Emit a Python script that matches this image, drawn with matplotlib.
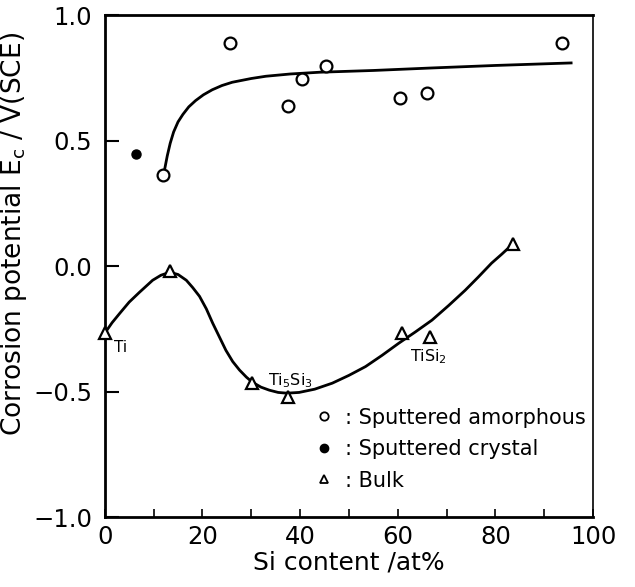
import matplotlib
matplotlib.use("Agg")
import matplotlib.pyplot as plt
from matplotlib.lines import Line2D

plt.rcParams['font.family'] = ['DejaVu Sans']
plt.rcParams['mathtext.fontset'] = 'dejavusans'

# sputtered amorphous films (open circles)
amor_si = [12.0, 25.7, 37.6, 40.4, 45.3, 60.4, 65.9, 93.7]
amor_ec = [0.365, 0.89, 0.637, 0.745, 0.797, 0.669, 0.689, 0.888]

# sputtered crystal (filled circle)
cryst_si = [6.3]
cryst_ec = [0.446]

# bulk samples (open triangles)
bulk_si = [0.0, 13.4, 30.1, 37.5, 60.9, 66.5, 83.5]
bulk_ec = [-0.267, -0.02, -0.466, -0.52, -0.267, -0.283, 0.088]

# guide curves
upper_x = [12.3, 12.8, 13.4, 14.1, 15.0, 16.0, 17.2, 18.6, 20.2, 22.0, 24.0,
           26.1, 30.0, 33.0, 38.0, 44.0, 55.0, 67.0, 80.0, 95.5]
upper_y = [0.39, 0.44, 0.49, 0.535, 0.575, 0.605, 0.635, 0.66, 0.683, 0.703,
           0.72, 0.733, 0.748, 0.757, 0.766, 0.773, 0.78, 0.79, 0.80, 0.81]

lower_x = [0.0, 1.5, 3.1, 5.0, 7.1, 9.8, 11.5, 13.3, 15.0, 16.7, 18.0, 19.4,
           20.8, 22.1, 23.5, 24.8, 26.2, 27.6, 29.0, 30.2, 32.0, 33.7, 35.5,
           37.3, 39.8, 43.0, 46.6, 50.0, 53.4, 56.8, 60.2, 63.6, 67.0, 70.4,
           73.8, 76.5, 79.2, 81.3, 83.3]
lower_y = [-0.267, -0.225, -0.187, -0.143, -0.104, -0.056, -0.036, -0.024,
           -0.033, -0.056, -0.085, -0.12, -0.17, -0.227, -0.283, -0.335,
           -0.38, -0.414, -0.442, -0.462, -0.482, -0.494, -0.503, -0.506,
           -0.503, -0.49, -0.466, -0.435, -0.40, -0.355, -0.307, -0.262,
           -0.215, -0.157, -0.096, -0.043, 0.012, 0.048, 0.084]

fig = plt.figure(figsize=(6.35, 5.87), dpi=100)
ax = fig.add_axes([0.165, 0.119, 0.769, 0.855])

ax.plot(upper_x, upper_y, color='black', lw=2.0, zorder=2)
ax.plot(lower_x, lower_y, color='black', lw=2.0, zorder=2)

ax.plot(amor_si, amor_ec, 'o', ms=8.5, mfc='white', mec='black', mew=1.6,
        zorder=3, clip_on=False)
ax.plot(cryst_si, cryst_ec, 'o', ms=6.5, mfc='black', mec='black', zorder=3)
ax.plot(bulk_si, bulk_ec, '^', ms=8.5, mfc='white', mec='black', mew=1.6,
        zorder=3, clip_on=False)

ax.text(1.8, -0.325, 'Ti', fontsize=11, va='center', ha='left')
ax.text(33.5, -0.455, 'Ti$_5$Si$_3$', fontsize=11.5, va='center', ha='left')
ax.text(62.6, -0.36, 'TiSi$_2$', fontsize=11.5, va='center', ha='left')

handles = [
    Line2D([], [], ls='none', marker='o', ms=6, mfc='white', mec='black', mew=1.3),
    Line2D([], [], ls='none', marker='o', ms=6, mfc='black', mec='black'),
    Line2D([], [], ls='none', marker='^', ms=6, mfc='white', mec='black', mew=1.3),
]
labels = [': Sputtered amorphous', ': Sputtered crystal', ': Bulk']
ax.legend(handles, labels, loc='upper left', bbox_to_anchor=(0.432, 0.218),
          frameon=False, fontsize=15, handlelength=0.8, handletextpad=0.6,
          borderpad=0, borderaxespad=0, labelspacing=0.55)

ax.set_xlim(0, 100)
ax.set_ylim(-1.0, 1.0)
ax.set_xticks([0, 20, 40, 60, 80, 100])
ax.set_xticks([10, 30, 50, 70, 90], minor=True)
ax.set_yticks([-1.0, -0.5, 0.0, 0.5, 1.0])
ax.set_yticklabels(['\u22121.0', '\u22120.5', '0.0', '0.5', '1.0'])
ax.tick_params(axis='x', which='both', direction='in', length=6, width=1.2,
               labelsize=17.5, pad=6)
ax.tick_params(axis='y', direction='in', length=10, width=1.5,
               labelsize=17.5, pad=9)

for side in ['left', 'bottom', 'top']:
    ax.spines[side].set_linewidth(2.0)
ax.spines['right'].set_linewidth(1.2)

ax.set_xlabel('Si content /at%', fontsize=18, labelpad=1)
ax.set_ylabel('Corrosion potential E$_\\mathrm{c}$ / V(SCE)', fontsize=19)
ax.yaxis.set_label_coords(-0.155, 0.565)

fig.savefig('out.png', dpi=100)
